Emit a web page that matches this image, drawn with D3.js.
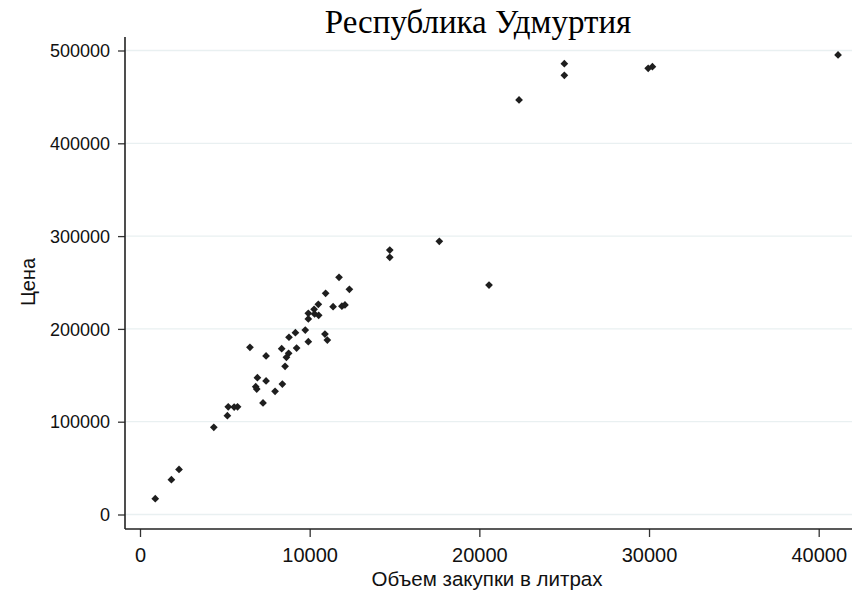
<!doctype html>
<html>
<head>
<meta charset="utf-8"/>
<title>Республика Удмуртия</title>
<script src="https://d3js.org/d3.v7.min.js"></script>
<style>
body { margin: 0; background: #fff; }
svg { display: block; }
</style>
</head>
<body>
<script type="text/javascript">
// объем закупки (литры) и цена
var volume = [900, 1850, 2300, 4350, 5150, 5200, 5550, 5750, 6480, 6820,
              6880, 6920, 7250, 7430, 7430, 7960, 8350, 8390, 8550, 8630,
              8760, 8780, 9160, 9230, 9740, 9920, 9920, 9920, 10260, 10290,
              10510, 10530, 10900, 10940, 11040, 11380, 11730, 11900, 12080, 12340,
              14720, 14720, 17640, 20570, 22340, 25010, 25010, 29950, 30200, 41140];
var price = [17000, 37500, 48500, 94000, 106500, 116000, 115800, 116000, 180200, 137700,
             135200, 147400, 120200, 170800, 143900, 132800, 178700, 140600, 159700, 169400,
             173700, 191000, 195900, 179400, 198800, 210700, 216800, 186200, 221100, 216100,
             226500, 214700, 194500, 238400, 188000, 223900, 255600, 224500, 225800, 242700,
             285000, 277200, 294400, 247300, 446700, 485800, 473300, 480800, 482600, 495200];

var xTicks = [0, 10000, 20000, 30000, 40000];
var yTicks = [0, 100000, 200000, 300000, 400000, 500000];

var title = "Республика Удмуртия";
var xTitle = "Объем закупки в литрах";
var yTitle = "Цена";

var W = 856, H = 604;
var plotLeft = 125, plotRight = 852, plotTop = 37, plotBottom = 529;

var svg = d3.select("body").append("svg")
    .attr("width", W)
    .attr("height", H);

var x = d3.scaleLinear().domain([0, 40000]).range([140, 818.7]);
var y = d3.scaleLinear().domain([0, 500000]).range([514.5, 50.5]);

// сетка
svg.append("g").selectAll("line")
    .data(yTicks)
    .enter().append("line")
    .attr("x1", plotLeft).attr("x2", plotRight)
    .attr("y1", function(d){ return y(d); })
    .attr("y2", function(d){ return y(d); })
    .attr("stroke", "#e9f0f1")
    .attr("stroke-width", 1.3);

// оси
var yAxis = svg.append("g")
    .attr("transform", "translate(" + plotLeft + ",0)")
    .call(d3.axisLeft(y).tickValues(yTicks).tickSize(7).tickSizeOuter(0).tickPadding(8).tickFormat(d3.format("d")));
var xAxis = svg.append("g")
    .attr("transform", "translate(0," + plotBottom + ")")
    .call(d3.axisBottom(x).tickValues(xTicks).tickSize(8).tickSizeOuter(0).tickPadding(10).tickFormat(d3.format("d")));

[yAxis, xAxis].forEach(function(g){
    g.select(".domain").remove();
    g.selectAll(".tick line").attr("stroke", "#333").attr("stroke-width", 1.3);
    g.selectAll(".tick text")
        .attr("fill", "#111")
        .style("font-family", "'Liberation Sans', Arial, sans-serif");
});
yAxis.selectAll(".tick text").style("font-size", "18px").attr("dy", "0.34em");
xAxis.selectAll(".tick text").style("font-size", "20px").attr("dy", "0.75em");

svg.append("line")
    .attr("x1", plotLeft).attr("x2", plotLeft)
    .attr("y1", plotTop).attr("y2", plotBottom)
    .attr("stroke", "#222").attr("stroke-width", 1.6);
svg.append("line")
    .attr("x1", plotLeft).attr("x2", plotRight)
    .attr("y1", plotBottom).attr("y2", plotBottom)
    .attr("stroke", "#222").attr("stroke-width", 1.6);

// точки
svg.append("g").selectAll("path")
    .data(volume)
    .enter().append("path")
    .attr("d", d3.symbol().type(d3.symbolSquare).size(30))
    .attr("transform", function(d, i){
        return "translate(" + x(volume[i]) + "," + y(price[i]) + ") rotate(45)";
    })
    .attr("fill", "#1e1e1e");

// подписи
svg.append("text")
    .attr("x", 478).attr("y", 33)
    .attr("text-anchor", "middle")
    .style("font-family", "'Liberation Serif', 'DejaVu Serif', serif")
    .style("font-size", "33px")
    .attr("fill", "#000")
    .text(title);

svg.append("text")
    .attr("x", 487).attr("y", 586)
    .attr("text-anchor", "middle")
    .style("font-family", "'Liberation Sans', Arial, sans-serif")
    .style("font-size", "20.5px")
    .attr("fill", "#111")
    .text(xTitle);

svg.append("text")
    .attr("transform", "translate(35,282) rotate(-90)")
    .attr("text-anchor", "middle")
    .style("font-family", "'Liberation Sans', Arial, sans-serif")
    .style("font-size", "20px")
    .attr("fill", "#111")
    .text(yTitle);
</script>
</body>
</html>
